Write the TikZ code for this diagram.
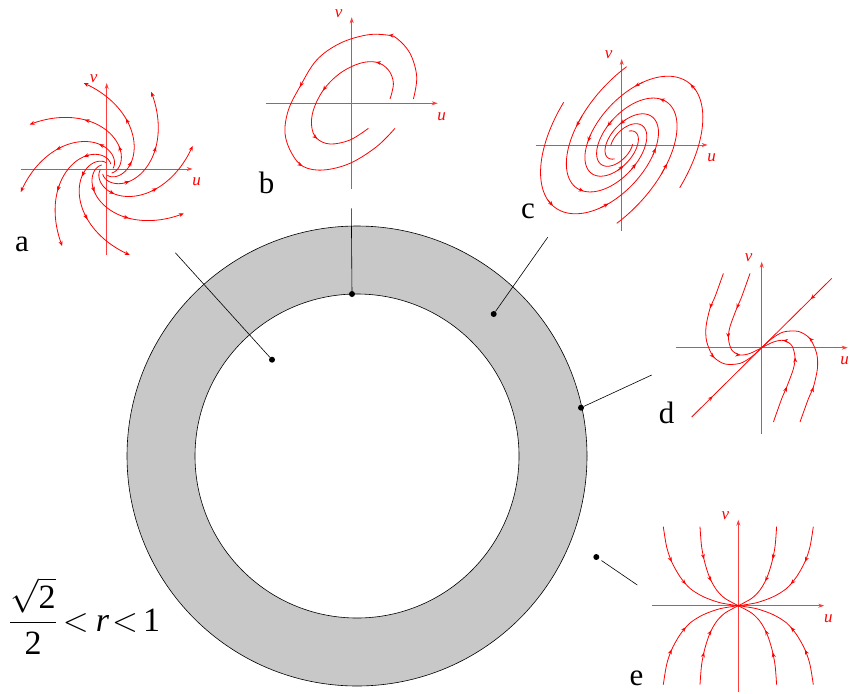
\documentclass[tikz,border=0pt]{standalone}
\usepackage{fix-cm}
\usepackage{fontspec}
\setmainfont{Liberation Serif}
\usetikzlibrary{arrows.meta,decorations.markings}
\definecolor{ringgray}{RGB}{200,200,200}
\definecolor{pred}{RGB}{255,0,0}
\definecolor{paxis}{RGB}{255,60,60}
\tikzset{
  traj/.style={draw=pred, line width=0.8pt},
  tiphead/.style={-{Stealth[length=5pt,width=4pt]}},
  axisline/.style={draw=paxis, line width=0.8pt, -{Stealth[length=6pt,width=4pt]}},
  axlabel/.style={text=pred, font=\fontsize{17}{17}\selectfont\itshape, inner sep=0pt},
  tagtext/.style={font=\fontsize{31}{31}\selectfont, inner sep=0pt, anchor=base},
  pointer/.style={draw=black, line width=0.6pt},
  dotnode/.style={circle, fill=black, inner sep=0pt, minimum size=6pt},
  arrowsat/.style={postaction={decorate, decoration={markings, mark=at position #1 with {\arrow{Stealth[length=5pt,width=4pt]}}}}},
}
\newcommand\phaseaxes[2][90]{%
  \draw[axisline] (-86,0) -- (86,0);
  \draw[axisline] (0,-86) -- (0,86);
  \node[axlabel] (#2u) at (#1,-13) {u};
  \node[axlabel] (#2v) at (-13,90) {v};
}
\newcommand\dcurves[1]{%
  \draw[traj, arrowsat=0.26, arrowsat=0.62] plot[smooth] coordinates {({#1*-38.3},{#1*74.3}) ({#1*-46.7},{#1*51}) ({#1*-51.7},{#1*39.3}) ({#1*-55.7},{#1*21}) ({#1*-55},{#1*6}) ({#1*-48.3},{#1*-9}) ({#1*-36.7},{#1*-16.3}) ({#1*-21.7},{#1*-15.7}) ({#1*-10},{#1*-9}) (0,0)};
  \draw[traj, arrowsat=0.33, arrowsat=0.6, arrowsat=0.8] plot[smooth] coordinates {({#1*-11.7},{#1*74.3}) ({#1*-20},{#1*51}) ({#1*-25},{#1*39.3}) ({#1*-31.7},{#1*21}) ({#1*-33.3},{#1*9.3}) ({#1*-30},{#1*-2.3}) ({#1*-21.7},{#1*-7.3}) ({#1*-11.7},{#1*-5.7}) (0,0)};
  \draw[traj, arrowsat=0.3] ({#1*70},{#1*69.3}) -- (0,0);
}
\newcommand\ecurves[2]{%
  \draw[traj, arrowsat=0.3, arrowsat=0.52] plot[smooth] coordinates {({#1*-75},{#2*79}) ({#1*-71.7},{#2*59}) ({#1*-66.7},{#2*44}) ({#1*-58.3},{#2*29}) ({#1*-48.3},{#2*17.3}) ({#1*-35},{#2*9}) ({#1*-18.3},{#2*3}) (0,0)};
  \draw[traj, arrowsat=0.35, arrowsat=0.6] plot[smooth] coordinates {({#1*-38.3},{#2*79}) ({#1*-36.7},{#2*59}) ({#1*-33.3},{#2*42.3}) ({#1*-28.3},{#2*27.3}) ({#1*-21.7},{#2*15.7}) ({#1*-13.3},{#2*7.3}) (0,0)};
}
\begin{document}
\begin{tikzpicture}[x=1pt,y=1pt]
\useasboundingbox (0,-693) rectangle (850,0);
% ring
\fill[ringgray, even odd rule] (357,-456) circle[radius=230] (357,-456) circle[radius=162];
\draw[line width=0.6pt] (357,-456) circle[radius=230];
\draw[line width=0.6pt] (357,-456) circle[radius=162];
% dots and pointers
\node[dotnode] (da) at (272,-359.7) {};
\node[dotnode] (db) at (352,-294) {};
\node[dotnode] (dc) at (493.7,-314) {};
\node[dotnode] (dd) at (581,-407.7) {};
\node[dotnode] (de) at (596.3,-557) {};
\coordinate (la) at (175.3,-252.7);
\coordinate (lb) at (351.3,-208.3);
\coordinate (lc) at (547.7,-237.3);
\coordinate (ld) at (651.7,-375);
\coordinate (le) at (637.3,-585);
\draw[pointer] (la) -- (da);
\draw[pointer] (lb) -- (db);
\draw[pointer] (lc) -- (dc);
\draw[pointer] (ld) -- (dd);
\draw[pointer, shorten >=3pt] (le) -- (de);
% letters
\node[tagtext] (ta) at (22,-251.7) {a};
\node[tagtext] (tb) at (266.5,-193.3) {b};
\node[tagtext] (tc) at (528,-218) {c};
\node[tagtext] (td) at (666.5,-423) {d};
\node[tagtext] (te) at (636.5,-685) {e};
% formula
\node[anchor=base west, inner sep=0pt, font=\fontsize{34}{34}\selectfont] (ineq) at (9,-631)
  {$\displaystyle\frac{\sqrt{\mbox{2}}}{\mbox{2}}$\hspace{6pt}$<$\hspace{7pt}\textit{r}\hspace{3pt}$<$\hspace{5pt}1};
% portrait a
\begin{scope}[shift={(106.7,-169)}]
  \phaseaxes{a}
  \foreach \e in {105,60,15,-30,-75,-120,-165,150}{
    \draw[traj, tiphead, variable=\t, domain=-3.3:0, samples=45, smooth]
      plot ({89*exp(0.8*\t)*cos(\e+\t*57.2958)}, {89*exp(0.8*\t)*sin(\e+\t*57.2958)});
    \foreach \tt/\dd in {-1.538/0.18, -0.625/0.087}{
      \pgfmathsetmacro\xa{89*exp(0.8*(\tt-\dd))*cos(\e+(\tt-\dd)*57.2958)}
      \pgfmathsetmacro\ya{89*exp(0.8*(\tt-\dd))*sin(\e+(\tt-\dd)*57.2958)}
      \pgfmathsetmacro\xb{89*exp(0.8*\tt)*cos(\e+\tt*57.2958)}
      \pgfmathsetmacro\yb{89*exp(0.8*\tt)*sin(\e+\tt*57.2958)}
      \draw[traj, tiphead] (\xa,\ya) -- (\xb,\yb);
    }
  }
\end{scope}
% portrait b
\begin{scope}[shift={(351.7,-103.3)}]
  \phaseaxes{b}
  \draw[traj, arrowsat=0.2, arrowsat=0.49, arrowsat=0.72] plot[smooth, tension=0.6] coordinates {(61.7,4.3) (65,26.7) (58.3,50) (45,65) (35,68.3) (15,68.3) (-11.7,60) (-35,43.3) (-51.7,16.7) (-63.3,-6.7) (-66.7,-30) (-60,-50) (-48.3,-63.3) (-28.3,-66.7) (-1.7,-60) (25,-43.3) (43.3,-25)};
  \draw[traj, arrowsat=0.21, arrowsat=0.5, arrowsat=0.74] plot[smooth, tension=0.6] coordinates {(38.3,4.3) (41.7,20) (36.7,33.3) (25,41) (8.3,40) (-11.7,30) (-28.3,13.3) (-38.3,-6.7) (-40,-23.3) (-35,-35) (-21.7,-40.7) (-1.7,-36.7) (16.7,-25)};
\end{scope}
% portrait c
\begin{scope}[shift={(621.7,-145)}]
  \phaseaxes{c}
  \begin{scope}[rotate=50]
    \foreach \th/\rr/\sp in {92/72/470, 272/72/470, 53/58.3/425, 233/58.3/425}{
      \draw[traj, variable=\t, domain=0:\sp, samples=110, smooth]
        plot ({1.8*\rr*exp(-0.0044*\t)*cos(\th+\t)}, {\rr*exp(-0.0044*\t)*sin(\th+\t)});
    }
    \foreach \th/\rr/\pp/\dd in {92/72/73/8, 92/72/131/8, 92/72/199/8, 92/72/329/14,
                                 272/72/73/8, 272/72/131/8, 272/72/199/8, 272/72/329/14,
                                 53/58.3/47/8, 53/58.3/128/8, 53/58.3/210/10,
                                 233/58.3/47/8, 233/58.3/128/8, 233/58.3/210/10}{
      \pgfmathsetmacro\xa{1.8*\rr*exp(-0.0044*(\pp-\dd))*cos(\th+\pp-\dd)}
      \pgfmathsetmacro\ya{\rr*exp(-0.0044*(\pp-\dd))*sin(\th+\pp-\dd)}
      \pgfmathsetmacro\xb{1.8*\rr*exp(-0.0044*\pp)*cos(\th+\pp)}
      \pgfmathsetmacro\yb{\rr*exp(-0.0044*\pp)*sin(\th+\pp)}
      \draw[traj, tiphead] (\xa,\ya) -- (\xb,\yb);
    }
  \end{scope}
\end{scope}
% portrait d
\begin{scope}[shift={(761.7,-347.7)}]
  \phaseaxes[83]{d}
  \dcurves{1}
  \dcurves{-1}
\end{scope}
% portrait e
\begin{scope}[shift={(738.3,-605.7)}]
  \phaseaxes{e}
  \ecurves{1}{1}
  \ecurves{-1}{1}
  \ecurves{1}{-1}
  \ecurves{-1}{-1}
\end{scope}
\end{tikzpicture}
\end{document}
